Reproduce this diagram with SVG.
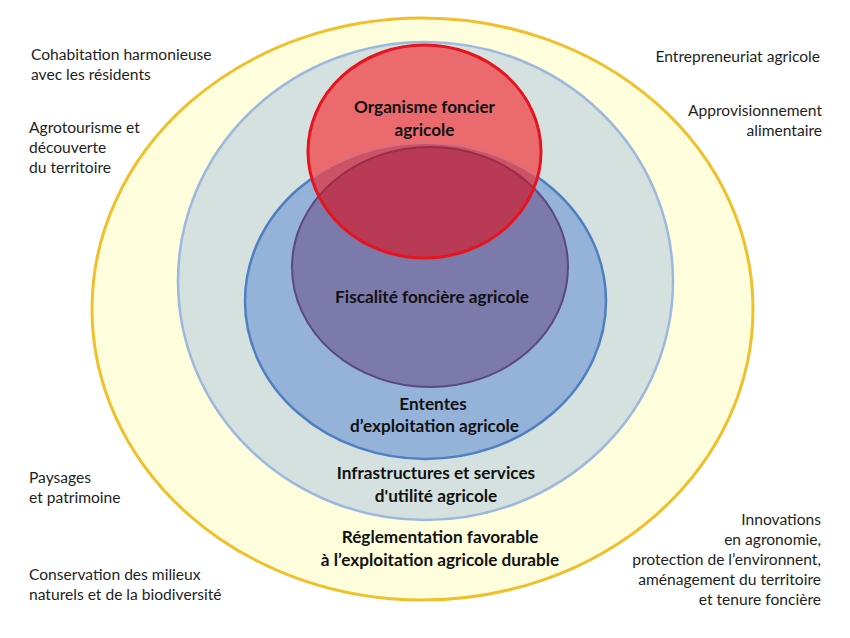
<svg xmlns="http://www.w3.org/2000/svg" width="850" height="638" viewBox="0 0 850 638">
<defs>
<clipPath id="redClip"><ellipse cx="424.5" cy="151.5" rx="116.5" ry="106.5"/></clipPath>
<style>
.side{font-family:Lato,"Liberation Sans",sans-serif;font-size:15.6px;fill:#1e1e1e}
.lbl{font-family:Lato,"Liberation Sans",sans-serif;font-size:17.2px;font-weight:bold;fill:#111;text-anchor:middle}
.r{text-anchor:end}
</style>
</defs>
<rect width="850" height="638" fill="#ffffff"/>
<g id="ring-reglementation">
<ellipse cx="422.5" cy="309" rx="330.5" ry="291" fill="#FEFEDD" stroke="#F0C02C" stroke-width="3"/>
</g>
<g id="ring-infrastructures">
<ellipse cx="425.5" cy="281" rx="247.5" ry="239" fill="#D5E1DE" stroke="#9CB8DC" stroke-width="2.5"/>
</g>
<g id="ring-ententes">
<ellipse cx="425.5" cy="301" rx="180.5" ry="158" fill="#95B2D8" stroke="#4D7FC3" stroke-width="2.5"/>
</g>
<g id="core-fiscalite">
<ellipse cx="430" cy="267" rx="138" ry="120" fill="#7B7AAB" stroke="#5A4880" stroke-width="2"/>
</g>
<g id="core-organisme">
<ellipse cx="424.5" cy="151.5" rx="116.5" ry="106.5" fill="#EA6A6E"/>
<g clip-path="url(#redClip)">
<ellipse cx="425.5" cy="301" rx="180.5" ry="158" fill="#CD5266" stroke="#D8707C" stroke-width="2"/>
<ellipse cx="430" cy="267" rx="138" ry="120" fill="#B83A55" stroke="#9A2D4A" stroke-width="2"/>
</g>
<ellipse cx="424.5" cy="151.5" rx="116.5" ry="106.5" fill="none" stroke="#E6141E" stroke-width="3"/>
</g>
<g id="connectors"/>
<g id="labels-inner">
<text class="lbl" x="424.5" y="113">Organisme foncier</text>
<text class="lbl" x="424.5" y="136">agricole</text>
<text class="lbl" x="432" y="303">Fiscalité foncière agricole</text>
<text class="lbl" x="433" y="410">Ententes</text>
<text class="lbl" x="434.5" y="432">d’exploitation agricole</text>
<text class="lbl" x="436" y="479">Infrastructures et services</text>
<text class="lbl" x="436" y="502">d'utilité agricole</text>
<text class="lbl" x="440" y="543">Réglementation favorable</text>
<text class="lbl" x="440" y="566">à l’exploitation agricole durable</text>
</g>
<g id="labels-left">
<text class="side" x="31" y="60">Cohabitation harmonieuse</text>
<text class="side" x="31" y="80">avec les résidents</text>
<text class="side" x="29" y="133">Agrotourisme et</text>
<text class="side" x="29" y="153">découverte</text>
<text class="side" x="29" y="173">du territoire</text>
<text class="side" x="29" y="483">Paysages</text>
<text class="side" x="29" y="503">et patrimoine</text>
<text class="side" x="29" y="580">Conservation des milieux</text>
<text class="side" x="29" y="600">naturels et de la biodiversité</text>
</g>
<g id="labels-right">
<text class="side r" x="820" y="62">Entrepreneuriat agricole</text>
<text class="side r" x="822" y="116">Approvisionnement</text>
<text class="side r" x="822" y="136">alimentaire</text>
<text class="side r" x="821" y="525">Innovations</text>
<text class="side r" x="821" y="545">en agronomie,</text>
<text class="side r" x="821" y="565">protection de l’environnent,</text>
<text class="side r" x="821" y="585">aménagement du territoire</text>
<text class="side r" x="821" y="605">et tenure foncière</text>
</g>
</svg>
